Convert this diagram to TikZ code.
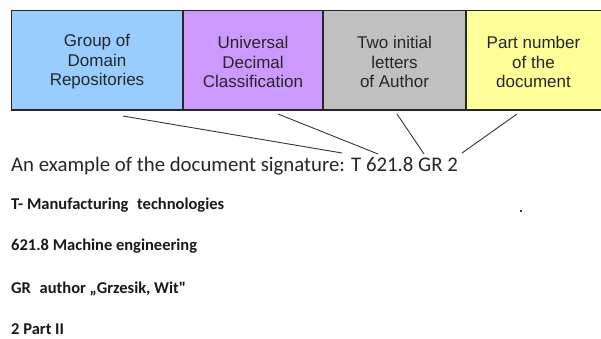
\documentclass[tikz,border=0pt]{standalone}
\usepackage{fontspec}
\setmainfont{Carlito}[Ligatures=TeXOff]
\newfontfamily\arialf{Liberation Sans}
\begin{document}
\begin{tikzpicture}[x=1pt,y=-1pt,
  cell/.style={inner sep=0pt, align=center,
    font=\arialf\fontsize{17}{19.5}\selectfont, text=black!85},
  conn/.style={draw=black!80, line width=0.9pt},
  sig/.style={anchor=base west, inner sep=0pt, font=\fontsize{20.8}{22}\selectfont, text=black!85},
  bline/.style={anchor=base west, inner sep=0pt, font=\bfseries\fontsize{16.5}{18}\selectfont, text=black!90}]
\useasboundingbox (0,0) rectangle (601,338);
\clip (0,0) rectangle (601,338);
\definecolor{cblue}{HTML}{99CCFF}
\definecolor{cpurple}{HTML}{CC99FF}
\definecolor{cgray}{HTML}{C0C0C0}
\definecolor{cyellow}{HTML}{FFFF99}
\fill[cblue] (11.5,10.5) rectangle (183,110);
\fill[cpurple] (183,10.5) rectangle (323,110);
\fill[cgray] (323,10.5) rectangle (466,110);
\fill[cyellow] (466,10.5) rectangle (605,110);
\draw[black!85, line width=1.2pt] (11.5,10.5) rectangle (605,110);
\draw[black!85, line width=1.2pt] (183,10.5) -- (183,110) (323,10.5) -- (323,110) (466,10.5) -- (466,110);
\node[cell] (b1) at (97,62) {Group of\\Domain\\Repositories};
\node[cell] (b2) at (253,62) {Universal\\Decimal\\Classification};
\node[cell] (b3) at (394.5,62) {Two initial\\letters\\of Author};
\node[cell] (b4) at (533.5,62) {Part number\\of the\\document};
\node[sig] (sig) at (11,171.5) {An example of the document signature: T 621.8 GR 2};
\coordinate (s1) at (123,116);
\coordinate (e1) at (342,153);
\coordinate (s2) at (278,114);
\coordinate (e2) at (378,154);
\coordinate (s3) at (397,114);
\coordinate (e3) at (424,154);
\coordinate (s4) at (517,114);
\coordinate (e4) at (462,153);
\draw[conn] (s1) -- (e1);
\draw[conn] (s2) -- (e2);
\draw[conn] (s3) -- (e3);
\draw[conn] (s4) -- (e4);
\node[bline] (l1) at (11,209) {T- Manufacturing\hspace{0.3em} technologies};
\node[bline] (l2) at (11,250.5) {621.8 Machine engineering};
\node[bline] (l3) at (11,293) {GR\hspace{0.3em} author „Grzesik, Wit"};
\node[bline] (l4) at (11,334) {2 Part II};
\fill[black!80] (520,210) rectangle (522,212);
\end{tikzpicture}
\end{document}
